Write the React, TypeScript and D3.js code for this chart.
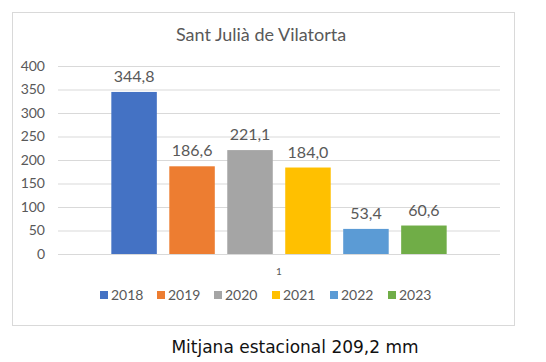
import React, { useRef, useEffect } from 'react';
import { select, scaleLinear, scaleBand, axisLeft } from 'd3';

// values
const years = ['2018', '2019', '2020', '2021', '2022', '2023'];
const rainfall = [344.8, 186.6, 221.1, 184.0, 53.4, 60.6];
const colors = ['#4472C4', '#ED7D31', '#A5A5A5', '#FFC000', '#5B9BD5', '#70AD47'];
const yTicks = [0, 50, 100, 150, 200, 250, 300, 350, 400];
const categoryLabel = '1';
const title = 'Sant Julià de Vilatorta';
const caption = 'Mitjana estacional 209,2 mm';

const W = 546;
const H = 362;
const font = 'Lato, "Open Sans", sans-serif';
const textColor = '#595959';

export default function App() {
  const svgRef = useRef<SVGSVGElement>(null);

  useEffect(() => {
    const svg = select(svgRef.current);
    svg.selectAll('*').remove();

    const plot = { left: 58, right: 500, top: 66, bottom: 254 };

    // chart frame
    svg.append('rect')
      .attr('x', 12.5).attr('y', 12.5)
      .attr('width', 502).attr('height', 313)
      .attr('fill', '#fff')
      .attr('stroke', '#d9d9d9');

    svg.append('text')
      .attr('x', 261).attr('y', 41)
      .attr('text-anchor', 'middle')
      .attr('font-family', font)
      .attr('font-size', 18)
      .attr('fill', textColor)
      .text(title);

    const yScale = scaleLinear().domain([0, 400]).range([plot.bottom, plot.top]);

    const yAxis = axisLeft(yScale)
      .tickValues(yTicks)
      .tickSize(-(plot.right - plot.left))
      .tickPadding(13);

    const gy = svg.append('g')
      .attr('transform', `translate(${plot.left},0)`)
      .call(yAxis);
    gy.select('.domain').remove();
    gy.selectAll('.tick line').attr('stroke', '#d9d9d9');
    gy.selectAll('.tick text')
      .attr('font-family', font)
      .attr('font-size', 14)
      .attr('fill', textColor);

    const xScale = scaleBand()
      .domain(years)
      .range([plot.left, plot.right])
      .paddingInner(0.215)
      .paddingOuter(0.92);

    svg.selectAll('.bar')
      .data(years)
      .join('rect')
      .attr('class', 'bar')
      .attr('x', d => xScale(d)!)
      .attr('width', xScale.bandwidth())
      .attr('y', (d, i) => yScale(rainfall[i]))
      .attr('height', (d, i) => plot.bottom - yScale(rainfall[i]))
      .attr('fill', (d, i) => colors[i]);

    svg.selectAll('.label')
      .data(years)
      .join('text')
      .attr('class', 'label')
      .attr('x', d => xScale(d)! + xScale.bandwidth() / 2)
      .attr('y', (d, i) => yScale(rainfall[i]) - 10)
      .attr('text-anchor', 'middle')
      .attr('font-family', font)
      .attr('font-size', 16)
      .attr('fill', textColor)
      .text((d, i) => rainfall[i].toFixed(1).replace('.', ','));

    svg.append('text')
      .attr('x', (plot.left + plot.right) / 2)
      .attr('y', 275)
      .attr('text-anchor', 'middle')
      .attr('font-family', font)
      .attr('font-size', 10)
      .attr('fill', textColor)
      .text(categoryLabel);

    // legend
    const legendX = [100, 157, 214, 272, 330, 388];
    const legend = svg.selectAll('.legend')
      .data(years)
      .join('g')
      .attr('class', 'legend')
      .attr('transform', (d, i) => `translate(${legendX[i]},300)`);
    legend.append('rect')
      .attr('x', 0).attr('y', -9)
      .attr('width', 8).attr('height', 8)
      .attr('fill', (d, i) => colors[i]);
    legend.append('text')
      .attr('x', 11).attr('y', 0)
      .attr('font-family', font)
      .attr('font-size', 14)
      .attr('fill', textColor)
      .text(d => d);

    svg.append('text')
      .attr('x', 295).attr('y', 353)
      .attr('text-anchor', 'middle')
      .attr('font-family', '"DejaVu Sans", Verdana, sans-serif')
      .attr('font-size', 17)
      .attr('fill', '#111')
      .text(caption);
  }, []);

  return (
    <svg ref={svgRef} width={W} height={H}
      style={{ position: 'absolute', left: 0, top: 0, background: '#fff' }} />
  );
}
